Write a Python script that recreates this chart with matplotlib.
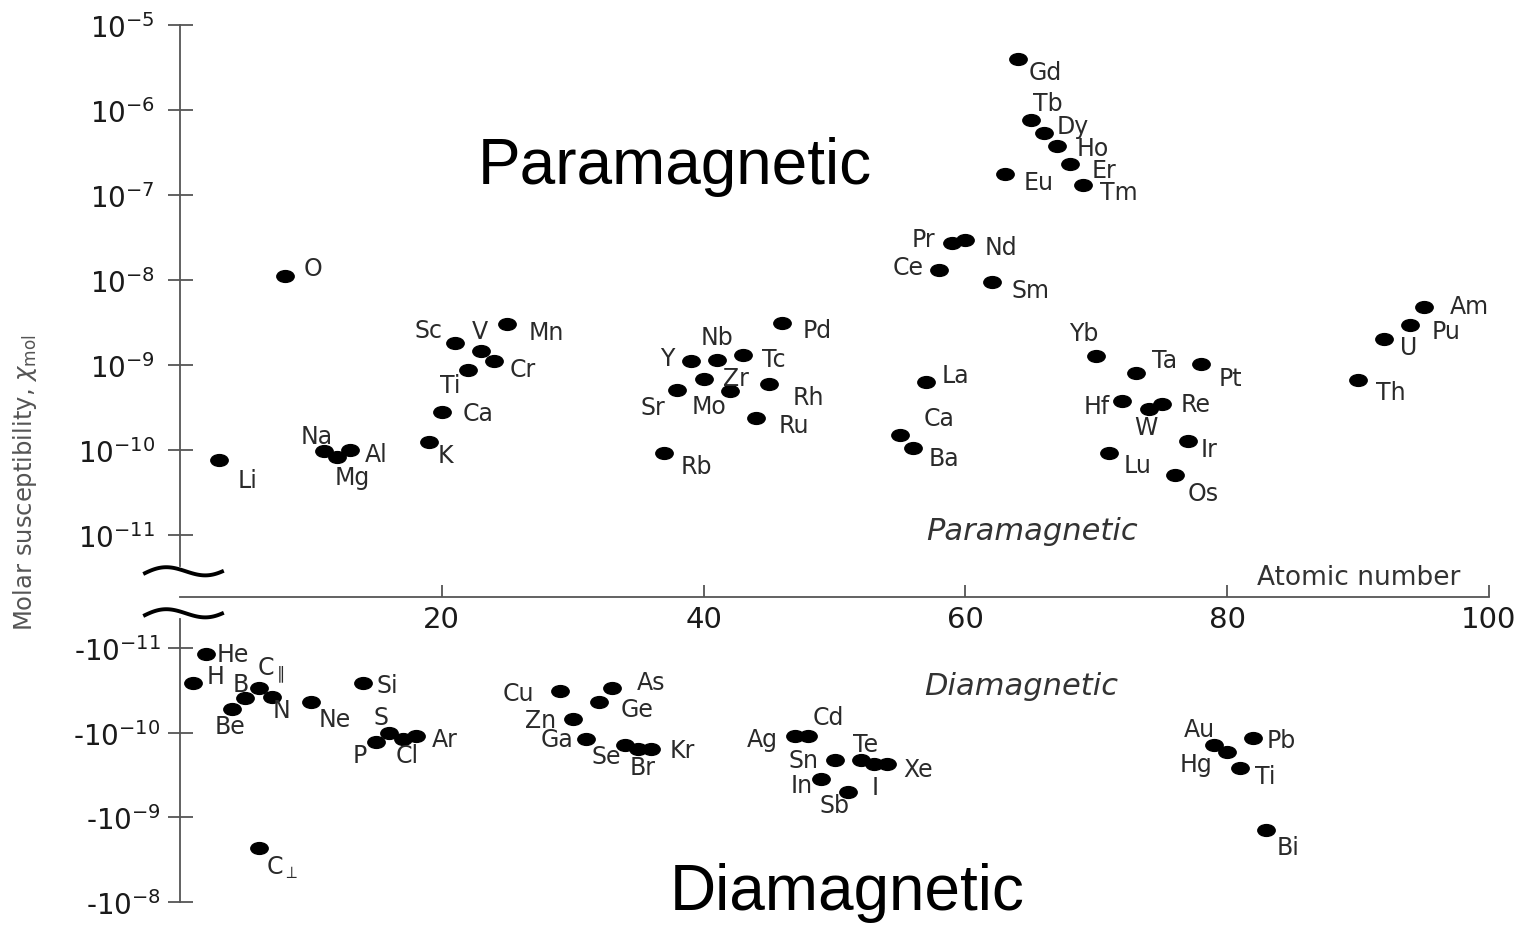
import numpy as np
import matplotlib
matplotlib.use("Agg")
import matplotlib.pyplot as plt
from matplotlib.path import Path
from matplotlib.transforms import Affine2D
from matplotlib.lines import Line2D

plt.rcParams['font.family'] = ['DejaVu Sans']
plt.rcParams['mathtext.fontset'] = 'dejavusans'

# paramagnetic elements (label as printed, atomic number, molar susceptibility)
para_labels = ["Li", "O", "Na", "Mg", "Al", "K", "Ca", "Sc", "Ti", "V", "Cr", "Mn",
               "Rb", "Sr", "Y", "Zr", "Nb", "Mo", "Tc", "Ru", "Rh", "Pd",
               "Ca", "Ba", "La", "Ce", "Pr", "Nd", "Sm", "Eu", "Gd", "Tb", "Dy",
               "Ho", "Er", "Tm", "Yb", "Lu", "Hf", "Ta", "W", "Re", "Os", "Ir",
               "Pt", "Th", "U", "Pu", "Am"]
para_z = [3, 8, 11, 12, 13, 19, 20, 21, 22, 23, 24, 25,
          37, 38, 39, 40, 41, 42, 43, 44, 45, 46,
          55, 56, 57, 58, 59, 60, 62, 63, 64, 65, 66,
          67, 68, 69, 70, 71, 72, 73, 74, 75, 76, 77,
          78, 90, 92, 94, 95]
para_chi = [7.6e-11, 1.12e-8, 9.8e-11, 8.3e-11, 1.0e-10, 1.23e-10, 2.8e-10, 1.82e-9,
            8.7e-10, 1.45e-9, 1.10e-9, 3.0e-9,
            9.1e-11, 5.1e-10, 1.10e-9, 6.9e-10, 1.15e-9, 4.9e-10, 1.32e-9, 2.4e-10,
            6.0e-10, 3.1e-9,
            1.51e-10, 1.05e-10, 6.3e-10, 1.29e-8, 2.75e-8, 2.95e-8, 9.5e-9, 1.78e-7,
            3.9e-6, 7.6e-7, 5.4e-7, 3.8e-7, 2.3e-7, 1.32e-7, 1.29e-9, 9.1e-11,
            3.8e-10, 8.1e-10, 3.0e-10, 3.5e-10, 5.1e-11, 1.29e-10, 1.02e-9,
            6.6e-10, 2.0e-9, 2.95e-9, 4.8e-9]

# diamagnetic elements
dia_labels = ["H", "He", "Be", "B", r"C$_{\parallel}$", "N", "Ne", "Si", "P", "S", "Cl", "Ar",
              r"C$_{\perp}$", "Cu", "Zn", "Ga", "Ge", "As", "Se", "Br", "Kr",
              "Ag", "Cd", "In", "Sn", "Sb", "Te", "I", "Xe",
              "Au", "Hg", "Ti", "Pb", "Bi"]
dia_z = [1, 2, 4, 5, 6, 7, 10, 14, 15, 16, 17, 18,
         6, 29, 30, 31, 32, 33, 34, 35, 36,
         47, 48, 49, 50, 51, 52, 53, 54,
         79, 80, 81, 82, 83]
dia_chi = [-2.6e-11, -1.17e-11, -5.2e-11, -3.9e-11, -3.0e-11, -3.8e-11, -4.3e-11,
           -2.6e-11, -1.29e-10, -1.0e-10, -1.2e-10, -1.1e-10,
           -2.3e-9, -3.2e-11, -6.9e-11, -1.2e-10, -4.3e-11, -3.0e-11, -1.41e-10,
           -1.58e-10, -1.55e-10,
           -1.1e-10, -1.1e-10, -3.5e-10, -2.1e-10, -5.1e-10, -2.1e-10, -2.35e-10,
           -2.35e-10,
           -1.41e-10, -1.7e-10, -2.6e-10, -1.15e-10, -1.41e-9]

x_ticks = [20, 40, 60, 80, 100]
para_ticks = [1e-11, 1e-10, 1e-9, 1e-8, 1e-7, 1e-6, 1e-5]
para_tick_labels = [r"$\mathregular{10^{-11}}$", r"$\mathregular{10^{-10}}$",
                    r"$\mathregular{10^{-9}}$", r"$\mathregular{10^{-8}}$",
                    r"$\mathregular{10^{-7}}$", r"$\mathregular{10^{-6}}$",
                    r"$\mathregular{10^{-5}}$"]
dia_ticks = [1e-11, 1e-10, 1e-9, 1e-8]
dia_tick_labels = [r"-$\mathregular{10^{-11}}$", r"-$\mathregular{10^{-10}}$",
                   r"-$\mathregular{10^{-9}}$", r"-$\mathregular{10^{-8}}$"]

# label offsets in pixels (dx, dy), same order as the labels above
para_offsets = [(28, -20), (28, 8), (-7, 15), (15, -20), (26, -4), (17, -13), (36, -1),
                (-26, 13), (-18, -15), (-1, 20), (29, -8), (39, -8),
                (32, -13), (-25, -17), (-23, 3), (32, 1), (0, 23), (-21, -15), (31, -4),
                (38, -7), (39, -13), (35, -7),
                (39, 17), (31, -10), (29, 7), (-31, 3), (-29, 4), (36, -7), (39, -8),
                (34, -8), (27, -13), (17, 17), (29, 7), (36, -2), (34, -6), (36, -7),
                (-13, 23), (28, -12), (-26, -5), (29, 13), (-3, -18), (34, 0),
                (28, -18), (21, -8), (29, -14), (33, -12), (24, -8), (36, -6), (46, 1)]
dia_offsets = [(22, 7), (27, 0), (-2, -17), (-5, 14), (12, 18), (10, -13), (24, -17),
               (24, -2), (-17, -13), (-8, 16), (5, -16), (29, -3),
               (24, -19), (-41, -2), (-32, -1), (-29, 0), (38, -7), (39, 6), (-19, -11),
               (4, -18), (31, -1),
               (-33, -3), (20, 19), (-20, -6), (-31, 0), (-13, -13), (5, 16), (1, -23),
               (31, -5),
               (-15, 16), (-31, -12), (25, -8), (28, -2), (22, -17)]

W, H = 1525, 929
fig = plt.figure(figsize=(W / 100, H / 100), dpi=100)
fig.set_facecolor('white')


def px_axes(x0, y0, x1, y1):
    return fig.add_axes([x0 / W, 1 - y1 / H, (x1 - x0) / W, (y1 - y0) / H])


dot = Path.unit_circle().transformed(Affine2D().scale(1.0, 0.68))
spine_col = '#555555'
txt_col = '#2a2a2a'
lab_size = 17

# upper part: paramagnetic
ax = px_axes(180, 25.7, 1489, 598)
ax.set_facecolor('none')
ax.set_xlim(0, 100)
ax.set_yscale('log')
ax.set_ylim(1.87e-12, 1e-5)
ax.plot(para_z, para_chi, ls='none', marker=dot, ms=12.5, color='black')
for lab, z, c, off in zip(para_labels, para_z, para_chi, para_offsets):
    ax.annotate(lab, (z, c), xytext=off, textcoords='offset pixels',
                ha='center', va='center', fontsize=lab_size, color=txt_col)
for s in ['top', 'right']:
    ax.spines[s].set_visible(False)
ax.spines['left'].set_bounds(4.33e-12, 1e-5)
ax.spines['bottom'].set_bounds(0, 100)
for s in ['left', 'bottom']:
    ax.spines[s].set_color(spine_col)
    ax.spines[s].set_linewidth(1.3)
ax.set_yticks(para_ticks, para_tick_labels)
ax.minorticks_off()
ax.set_xticks(x_ticks, [str(t) for t in x_ticks])
ax.tick_params(axis='y', direction='inout', length=18, width=1.3, color=spine_col,
               labelsize=20, labelcolor='#1a1a1a', pad=9)
ax.tick_params(axis='x', direction='in', length=9, width=1.3, color=spine_col,
               labelsize=21, labelcolor='#1a1a1a', pad=6)

# lower part: diamagnetic (magnitude on an inverted log axis)
ax2 = px_axes(180, 620, 1489, 902.7)
ax2.set_facecolor('none')
ax2.set_xlim(0, 100)
ax2.set_yscale('log')
ax2.set_ylim(1e-8, 4.54e-12)
mag = [-c for c in dia_chi]
ax2.plot(dia_z, mag, ls='none', marker=dot, ms=12.5, color='black')
for lab, z, m, off in zip(dia_labels, dia_z, mag, dia_offsets):
    ax2.annotate(lab, (z, m), xytext=off, textcoords='offset pixels',
                 ha='center', va='center', fontsize=lab_size, color=txt_col)
for s in ['top', 'right', 'bottom']:
    ax2.spines[s].set_visible(False)
ax2.spines['left'].set_color(spine_col)
ax2.spines['left'].set_linewidth(1.3)
ax2.set_xticks([])
ax2.set_yticks(dia_ticks, dia_tick_labels)
ax2.minorticks_off()
ax2.tick_params(axis='y', direction='inout', length=18, width=1.3, color=spine_col,
                labelsize=20, labelcolor='#1a1a1a', pad=5)

# axis break marks
t = np.linspace(0, 1, 60)
bx = (145 + 77 * t) / W
for y0 in (576, 618):
    by = 1 - (y0 - 6 * np.sin(2 * np.pi * (0.85 * t + 0.05)) - 7 * t) / H
    fig.add_artist(Line2D(bx, by, color='black', lw=2.8, transform=fig.transFigure))

# texts
fig.text(25 / W, 1 - 483 / H, r"Molar susceptibility, $\chi_{\mathrm{mol}}$", rotation=90,
         ha='center', va='center', fontsize=17.5, color='#555555')
fig.text(1359 / W, 1 - 578 / H, "Atomic number", ha='center', va='center',
         fontsize=19, color='#333333')
fig.text(1032 / W, 1 - 532 / H, "Paramagnetic", style='italic', ha='center', va='center',
         fontsize=22, color='#333333')
fig.text(1021 / W, 1 - 687 / H, "Diamagnetic", style='italic', ha='center', va='center',
         fontsize=22, color='#333333')
fig.text(675 / W, 1 - 167 / H, "Paramagnetic", ha='center', va='center',
         fontsize=46, family='Liberation Sans', color='black')
fig.text(847 / W, 1 - 893 / H, "Diamagnetic", ha='center', va='center',
         fontsize=46, family='Liberation Sans', color='black')

fig.savefig('out.png', dpi=100)
